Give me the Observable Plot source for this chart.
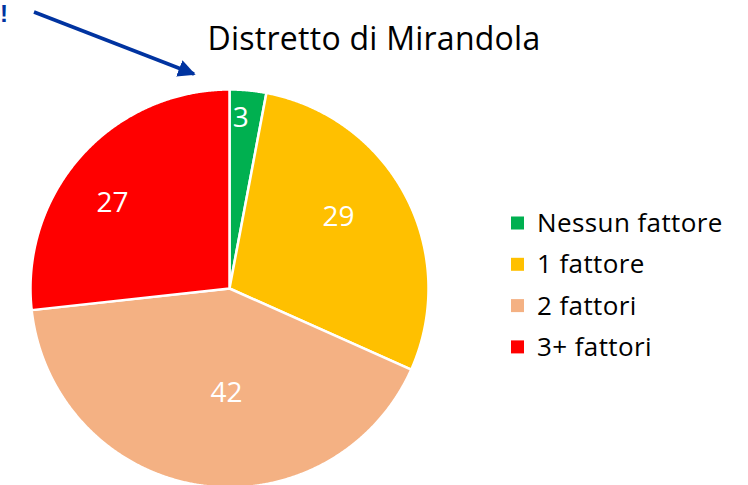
<!DOCTYPE html>
<html>
<head>
<meta charset="utf-8">
<script src="https://cdn.jsdelivr.net/npm/d3@7"></script>
<script src="https://cdn.jsdelivr.net/npm/@observablehq/plot@0.6"></script>
<style>
  html, body { margin: 0; padding: 0; background: #fff; }
  #wrap { position: relative; width: 748px; height: 485px; overflow: hidden; font-family: "Open Sans", "Noto Sans", sans-serif; }
  #wrap svg.plot { position: absolute; left: 0; top: 0; }
  #annot { position: absolute; left: 0; top: 0; z-index: 2; }
</style>
</head>
<body>
<div id="wrap">
  <svg id="annot" width="748" height="485">
    <defs>
      <marker id="ah" viewBox="0 0 10 10" refX="9" refY="5" markerWidth="5" markerHeight="5" orient="auto">
        <path d="M0,0 L10,5 L0,10 z" fill="#0033A0"></path>
      </marker>
    </defs>
    <text x="0" y="22" font-size="24" font-weight="bold" fill="#0033A0" font-family="Liberation Sans, sans-serif">!</text>
    <line x1="34" y1="12" x2="194" y2="74" stroke="#0033A0" stroke-width="3.5" marker-end="url(#ah)"></line>
    <text x="374" y="50" text-anchor="middle" font-size="32" fill="#000" font-family="Open Sans, sans-serif" letter-spacing="0.25">Distretto di Mirandola</text>
    <g id="legend" font-family="Open Sans, sans-serif" font-size="26" fill="#000" letter-spacing="0.4"></g>
  </svg>
</div>
<script>
// Data
const categories = ["Nessun fattore", "1 fattore", "2 fattori", "3+ fattori"];
const values = [3, 29, 42, 27];
const colors = ["#00B050", "#FFC000", "#F4B183", "#FF0000"];

// Layout constants (not data)
const cx0 = 30, cx1 = 428, cy0 = 487, cy1 = 89;
// label placement: radius fraction and angular shift (degrees) from slice mid-angle
const labelPlace = {
  "Nessun fattore": {r: 0.856, shift: -1.6},
  "1 fattore": {r: 0.654, shift: -5.5},
  "2 fattori": {r: 0.523, shift: -7.3},
  "3+ fattori": {r: 0.73, shift: -5.6}
};

const table = categories.map((c, i) => ({category: c, value: values[i]}));
const arcs = d3.pie().sort(null).value(d => d.value)(table);

const pts = [];
for (const a of arcs) {
  const c = a.data.category;
  pts.push({category: c, x: 0, y: 0});
  const n = Math.max(4, Math.ceil((a.endAngle - a.startAngle) / 0.005));
  for (let k = 0; k <= n; k++) {
    const t = a.startAngle + (a.endAngle - a.startAngle) * k / n;
    pts.push({category: c, x: Math.sin(t), y: Math.cos(t)});
  }
  pts.push({category: c, x: 0, y: 0});
}
const labels = arcs.map(a => {
  const p = labelPlace[a.data.category];
  const m = (a.startAngle + a.endAngle) / 2 + p.shift * Math.PI / 180;
  return {category: a.data.category, value: a.data.value, x: p.r * Math.sin(m), y: p.r * Math.cos(m)};
});

const chart = Plot.plot({
  width: 748,
  height: 485,
  margin: 0,
  x: {domain: [-1, 1], range: [cx0, cx1], axis: null},
  y: {domain: [-1, 1], range: [cy0, cy1], axis: null},
  color: {domain: categories, range: colors},
  style: {background: "transparent", overflow: "visible"},
  marks: [
    Plot.line(pts, {x: "x", y: "y", z: "category", fill: "category", stroke: "white", strokeWidth: 2.5, strokeLinejoin: "round"}),
    Plot.text(labels, {x: "x", y: "y", text: d => String(d.value), fill: "white", fontSize: 28, fontFamily: "Open Sans, Noto Sans, sans-serif"})
  ]
});
document.getElementById("wrap").appendChild(chart);

// Legend
const ns = "http://www.w3.org/2000/svg";
const leg = document.getElementById("legend");
const legTop = 223, legStep = 41.3;
categories.forEach((c, i) => {
  const cy = legTop + i * legStep;
  const r = document.createElementNS(ns, "rect");
  r.setAttribute("x", 511); r.setAttribute("y", cy - 6.5);
  r.setAttribute("width", 13); r.setAttribute("height", 13);
  r.setAttribute("fill", colors[i]);
  leg.appendChild(r);
  const t = document.createElementNS(ns, "text");
  t.setAttribute("x", 537); t.setAttribute("y", cy + 9);
  t.textContent = c;
  leg.appendChild(t);
});
</script>
</body>
</html>
